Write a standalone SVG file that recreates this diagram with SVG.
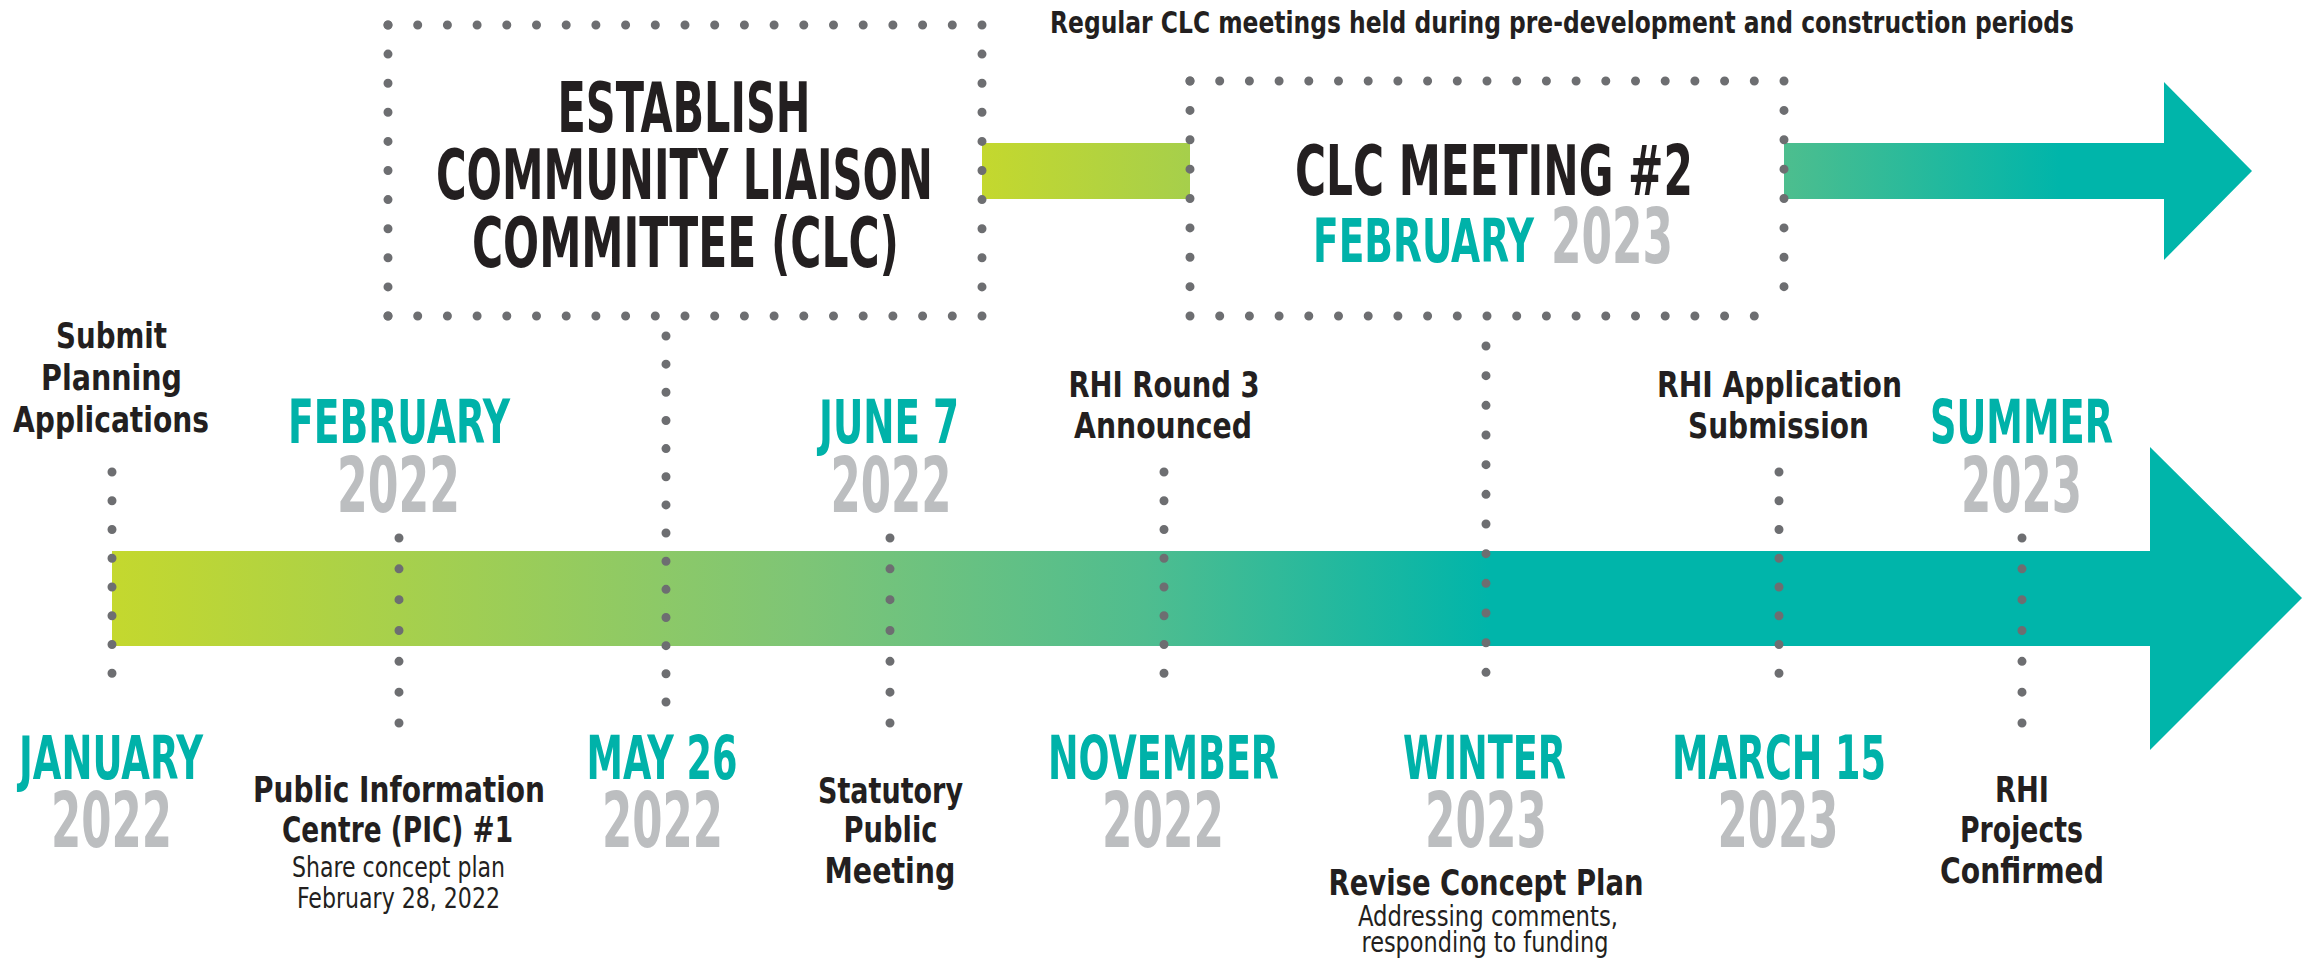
<svg xmlns="http://www.w3.org/2000/svg" width="2315" height="967" viewBox="0 0 2315 967">
<defs>
<linearGradient id="gMain" gradientUnits="userSpaceOnUse" x1="112" y1="0" x2="1490" y2="0">
<stop offset="0" stop-color="#c4d82e"/>
<stop offset="0.5" stop-color="#7ec576"/>
<stop offset="0.75" stop-color="#4fbd8f"/>
<stop offset="1" stop-color="#00b5aa"/>
</linearGradient>
<linearGradient id="gTopL" gradientUnits="userSpaceOnUse" x1="982" y1="0" x2="1190" y2="0">
<stop offset="0" stop-color="#c4d82e"/>
<stop offset="1" stop-color="#a6cf4b"/>
</linearGradient>
<linearGradient id="gTopR" gradientUnits="userSpaceOnUse" x1="1784" y1="0" x2="2060" y2="0">
<stop offset="0" stop-color="#4dbe8e"/>
<stop offset="1" stop-color="#00b5aa"/>
</linearGradient>
<style>
.dot{stroke:#6d6e71;stroke-width:9;stroke-linecap:round;fill:none}
.cond{font-family:"Liberation Sans Narrow","DejaVu Sans Condensed","Liberation Sans",sans-serif;font-weight:bold;text-anchor:middle}
.h{font-size:70px;fill:#231f20}
.m{font-size:61px;fill:#00b2a9}
.y{font-size:77px;fill:#bcbec0}
.b{font-family:"Liberation Sans Narrow","DejaVu Sans Condensed","Liberation Sans",sans-serif;font-weight:bold;font-size:36px;fill:#231f20;text-anchor:middle}
.s{font-family:"Liberation Sans Narrow","DejaVu Sans Condensed","Liberation Sans",sans-serif;font-weight:normal;font-size:28px;fill:#231f20;text-anchor:middle}
.t{font-family:"Liberation Sans Narrow","DejaVu Sans Condensed","Liberation Sans",sans-serif;font-weight:bold;font-size:31px;fill:#231f20}
</style>
</defs>
<rect width="2315" height="967" fill="#ffffff"/>

<g id="arrows">
<path d="M112 551 H2150 V447 L2302 598 L2150 750 V646 H112 Z" fill="url(#gMain)"/>
<rect x="982" y="143" width="208" height="56" fill="url(#gTopL)"/>
<path d="M1784 143 H2164 V82 L2252 171 L2164 260 V199 H1784 Z" fill="url(#gTopR)"/>
</g>

<g id="connectors">
<line class="dot" x1="112" y1="472" x2="112" y2="702" stroke-dasharray="0 28.75"/>
<line class="dot" x1="399" y1="538" x2="399" y2="723" stroke-dasharray="0 30.83"/>
<line class="dot" x1="666" y1="336" x2="666" y2="702" stroke-dasharray="0 28.15"/>
<line class="dot" x1="890" y1="538" x2="890" y2="723" stroke-dasharray="0 30.83"/>
<line class="dot" x1="1164" y1="472" x2="1164" y2="702" stroke-dasharray="0 28.75"/>
<line class="dot" x1="1486" y1="346" x2="1486" y2="702" stroke-dasharray="0 29.67"/>
<line class="dot" x1="1779" y1="472" x2="1779" y2="702" stroke-dasharray="0 28.75"/>
<line class="dot" x1="2022" y1="538" x2="2022" y2="723" stroke-dasharray="0 30.83"/>
</g>

<g id="box-establish-clc">
<line class="dot" x1="388" y1="25" x2="982" y2="25" stroke-dasharray="0 29.7"/>
<line class="dot" x1="388" y1="316" x2="982" y2="316" stroke-dasharray="0 29.7"/>
<line class="dot" x1="388" y1="25" x2="388" y2="316" stroke-dasharray="0 29.1"/>
<line class="dot" x1="982" y1="25" x2="982" y2="316" stroke-dasharray="0 29.1"/>
<text class="cond h" x="684" y="132" textLength="253" lengthAdjust="spacingAndGlyphs">ESTABLISH</text>
<text class="cond h" x="684.5" y="199" textLength="497" lengthAdjust="spacingAndGlyphs">COMMUNITY LIAISON</text>
<text class="cond h" x="685.5" y="267" textLength="427" lengthAdjust="spacingAndGlyphs">COMMITTEE (CLC)</text>
</g>

<g id="box-clc-meeting-2">
<line class="dot" x1="1190" y1="81" x2="1784" y2="81" stroke-dasharray="0 29.7"/>
<line class="dot" x1="1190" y1="316" x2="1784" y2="316" stroke-dasharray="0 29.7"/>
<line class="dot" x1="1190" y1="81" x2="1190" y2="316" stroke-dasharray="0 29.375"/>
<line class="dot" x1="1784" y1="81" x2="1784" y2="316" stroke-dasharray="0 29.375"/>
<text class="cond h" x="1494" y="195" font-size="68" textLength="398" lengthAdjust="spacingAndGlyphs">CLC MEETING #2</text>
<text class="cond m" x="1423.5" y="262" textLength="221" lengthAdjust="spacingAndGlyphs">FEBRUARY</text>
<text class="cond y" x="1612" y="263" textLength="122" lengthAdjust="spacingAndGlyphs">2023</text>
</g>

<g id="label-regular">
<text class="t" x="1050" y="33" textLength="1024" lengthAdjust="spacingAndGlyphs">Regular CLC meetings held during pre-development and construction periods</text>
</g>

<g id="node-submit">
<text class="b" x="111.5" y="348" textLength="111" lengthAdjust="spacingAndGlyphs">Submit</text>
<text class="b" x="111.5" y="390" textLength="141" lengthAdjust="spacingAndGlyphs">Planning</text>
<text class="b" x="111" y="432" textLength="196" lengthAdjust="spacingAndGlyphs">Applications</text>
</g>

<g id="node-january">
<text class="cond m" x="111" y="779" textLength="184" lengthAdjust="spacingAndGlyphs">JANUARY</text>
<text class="cond y" x="111.5" y="847" textLength="121" lengthAdjust="spacingAndGlyphs">2022</text>
</g>

<g id="node-february">
<text class="cond m" x="399" y="443" textLength="222" lengthAdjust="spacingAndGlyphs">FEBRUARY</text>
<text class="cond y" x="398.5" y="512" textLength="123" lengthAdjust="spacingAndGlyphs">2022</text>
</g>

<g id="node-pic">
<text class="b" x="399" y="802" textLength="292" lengthAdjust="spacingAndGlyphs">Public Information</text>
<text class="b" x="397.5" y="842" textLength="231" lengthAdjust="spacingAndGlyphs">Centre (PIC) #1</text>
<text class="s" x="398.5" y="877" textLength="213" lengthAdjust="spacingAndGlyphs">Share concept plan</text>
<text class="s" x="398.5" y="908" textLength="203" lengthAdjust="spacingAndGlyphs">February 28, 2022</text>
</g>

<g id="node-may26">
<text class="cond m" x="662" y="779" textLength="151" lengthAdjust="spacingAndGlyphs">MAY 26</text>
<text class="cond y" x="662.5" y="847" textLength="121" lengthAdjust="spacingAndGlyphs">2022</text>
</g>

<g id="node-june7">
<text class="cond m" x="889" y="443" textLength="140" lengthAdjust="spacingAndGlyphs">JUNE 7</text>
<text class="cond y" x="891" y="512" textLength="121" lengthAdjust="spacingAndGlyphs">2022</text>
</g>

<g id="node-statutory">
<text class="b" x="890.5" y="803" textLength="145" lengthAdjust="spacingAndGlyphs">Statutory</text>
<text class="b" x="890.5" y="842" textLength="94" lengthAdjust="spacingAndGlyphs">Public</text>
<text class="b" x="890" y="883" textLength="131" lengthAdjust="spacingAndGlyphs">Meeting</text>
</g>

<g id="node-rhi-round3">
<text class="b" x="1164" y="397" textLength="191" lengthAdjust="spacingAndGlyphs">RHI Round 3</text>
<text class="b" x="1163" y="438" textLength="178" lengthAdjust="spacingAndGlyphs">Announced</text>
</g>

<g id="node-november">
<text class="cond m" x="1163.5" y="779" textLength="231" lengthAdjust="spacingAndGlyphs">NOVEMBER</text>
<text class="cond y" x="1163" y="847" textLength="122" lengthAdjust="spacingAndGlyphs">2022</text>
</g>

<g id="node-winter">
<text class="cond m" x="1484.5" y="779" textLength="163" lengthAdjust="spacingAndGlyphs">WINTER</text>
<text class="cond y" x="1486" y="847" textLength="122" lengthAdjust="spacingAndGlyphs">2023</text>
<text class="b" x="1486" y="895" textLength="315" lengthAdjust="spacingAndGlyphs">Revise Concept Plan</text>
<text class="s" x="1488" y="926" textLength="260" lengthAdjust="spacingAndGlyphs">Addressing comments,</text>
<text class="s" x="1485" y="952" textLength="247" lengthAdjust="spacingAndGlyphs">responding to funding</text>
</g>

<g id="node-rhi-application">
<text class="b" x="1779.5" y="397" textLength="245" lengthAdjust="spacingAndGlyphs">RHI Application</text>
<text class="b" x="1778.5" y="438" textLength="181" lengthAdjust="spacingAndGlyphs">Submission</text>
</g>

<g id="node-march15">
<text class="cond m" x="1779" y="779" textLength="214" lengthAdjust="spacingAndGlyphs">MARCH 15</text>
<text class="cond y" x="1778" y="847" textLength="121" lengthAdjust="spacingAndGlyphs">2023</text>
</g>

<g id="node-summer">
<text class="cond m" x="2021.5" y="443" textLength="183" lengthAdjust="spacingAndGlyphs">SUMMER</text>
<text class="cond y" x="2021.5" y="512" textLength="121" lengthAdjust="spacingAndGlyphs">2023</text>
</g>

<g id="node-rhi-confirmed">
<text class="b" x="2022" y="802" textLength="54" lengthAdjust="spacingAndGlyphs">RHI</text>
<text class="b" x="2021.5" y="842" textLength="123" lengthAdjust="spacingAndGlyphs">Projects</text>
<text class="b" x="2022" y="883" textLength="164" lengthAdjust="spacingAndGlyphs">Confirmed</text>
</g>
</svg>
